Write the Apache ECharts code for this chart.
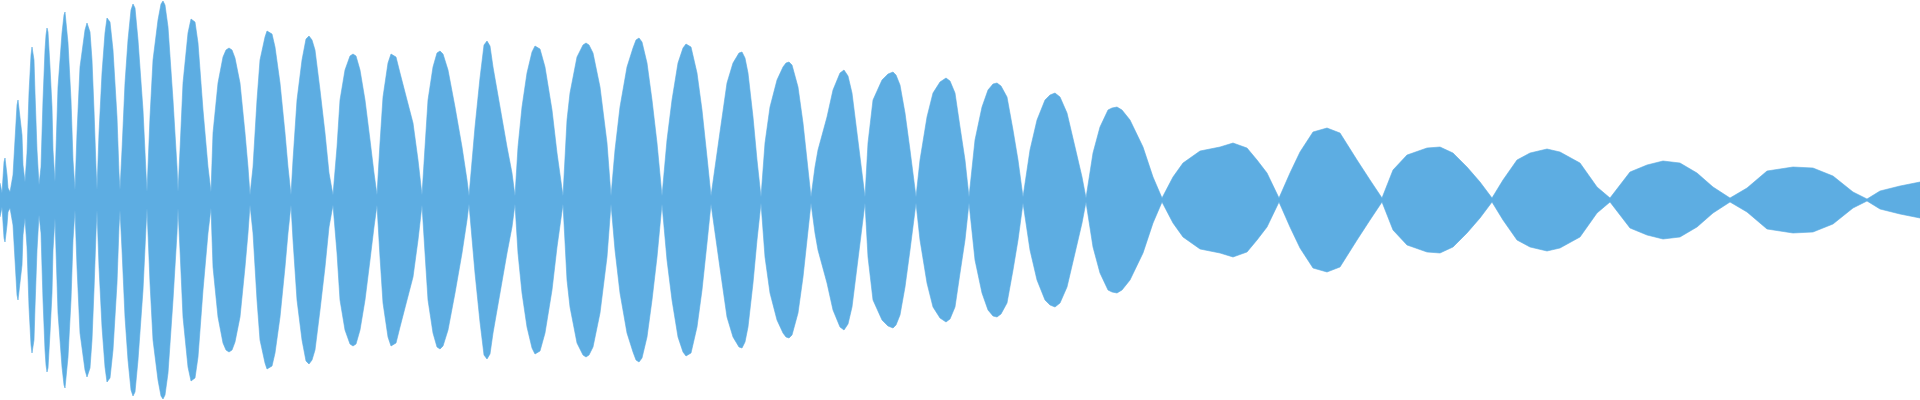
<!DOCTYPE html>
<html>
<head>
<meta charset="utf-8">
<script src="https://cdn.jsdelivr.net/npm/echarts@6/dist/echarts.min.js"></script>
<style>html,body{margin:0;padding:0;background:#fff}#c{width:1920px;height:400px}</style>
</head>
<body>
<div id="c"></div>
<script>
// time (sample) positions of envelope readings
const times = [
0,1,2,3,4,5,6,7,8,10,13,15,17,18,19,20,22,23,25,
27,29,31,32,33,34,35,37,39,
41,43,45,46,47,48,50,52,53,55,
56,58,62,64,65,66,68,71,73,75,
77,80,85,87,88,90,92,94,96,97,
99,102,105,107,108,110,113,117,119,120,
122,125,128,131,133,135,138,143,146,147,
150,153,158,161,163,165,168,173,177,178,
180,183,188,191,193,195,198,203,208,211,
213,218,223,226,229,232,235,240,245,248,250,
253,257,260,265,267,269,272,275,280,285,288,291,
293,297,302,306,309,312,315,320,325,329,333,
337,340,345,350,353,356,360,365,370,374,377,
380,383,388,391,393,396,400,407,413,418,422,
425,428,433,437,440,443,448,455,462,467,469,
475,480,484,487,490,493,500,507,512,515,
518,522,527,532,535,537,540,545,552,557,563,
567,570,577,583,586,589,593,600,607,611,
615,620,627,633,636,639,642,647,652,657,662,
667,672,678,683,686,688,691,697,702,707,711,
720,727,733,739,742,745,748,753,757,761,
765,770,777,783,786,789,792,798,803,807,811,
815,818,827,833,840,844,848,852,857,862,865,
868,873,882,888,893,896,900,905,910,916,
920,927,933,940,946,950,955,960,965,969,
975,982,988,993,997,1001,1007,1013,1018,1023,
1030,1037,1045,1050,1055,1060,1067,1075,1082,1086,
1093,1100,1108,1112,1117,1122,1130,1143,1153,1162,
1173,1183,1200,1220,1233,1247,1257,1267,1279,
1290,1300,1313,1327,1340,1357,1370,1382,
1393,1407,1427,1440,1453,1467,1480,1492,
1503,1517,1530,1547,1560,1580,1597,1610,
1620,1630,1647,1663,1680,1697,1713,1730,
1747,1767,1793,1813,1833,1853,1867,
1880,1900,1920
];
// envelope amplitude at each time
const amplitude = [
17,17,7,8,38,42,40,25,12,8,25,60,95,100,101,100,65,35,18,
47,107,145,153,151,140,107,50,15,
33,100,150,165,172,168,133,93,50,18,
50,113,167,185,188,186,157,100,40,10,
67,133,170,177,178,168,140,90,33,10,
67,127,167,182,184,178,150,83,27,10,
50,117,160,190,196,192,160,90,27,8,
83,140,180,196,199,195,173,100,33,8,
50,117,167,181,183,178,157,90,33,8,
67,117,143,150,152,150,142,117,67,33,5,
33,100,140,163,169,170,166,153,117,67,33,5,
40,100,140,161,164,160,150,110,67,27,5,
53,100,130,144,146,144,130,100,60,27,5,
57,103,137,146,147,143,127,100,77,40,5,
53,100,133,147,149,146,130,93,53,20,4,
73,122,155,159,154,133,93,53,27,4,
53,93,127,148,154,155,151,133,90,47,4,
80,107,143,155,157,155,147,113,57,4,
50,93,133,152,160,162,158,137,100,57,4,
60,100,137,152,156,157,153,127,90,43,4,
68,117,137,147,148,142,127,83,40,3,
57,93,120,133,137,138,135,113,77,40,3,
33,50,83,110,127,130,124,107,67,27,3,
57,100,120,126,128,125,115,87,50,3,
40,83,107,118,122,119,107,73,40,3,
60,93,110,116,117,114,103,70,40,3,
50,80,100,105,107,103,87,53,23,2,
47,73,90,92,93,90,80,53,23,2,
23,37,49,53,57,52,40,27,2,
27,48,68,72,67,40,20,2,
30,45,52,53,47,33,18,2,
20,40,47,51,48,37,13,2,
15,28,35,39,37,27,13,2,
12,29,33,32,24,8,1,
9,14,18
];
if (times.length !== amplitude.length) { throw new Error('length mismatch ' + times.length + ' vs ' + amplitude.length); }

const upper = times.map((t, i) => [t, amplitude[i]]);
const lower = times.map((t, i) => [t, -amplitude[i]]);

const chart = echarts.init(document.getElementById('c'), null, {renderer: 'canvas'});
const color = '#5dade2';
const base = {
  type: 'line', showSymbol: false, symbol: 'none', smooth: false,
  lineStyle: {width: 0.6, color: color},
  areaStyle: {color: color, opacity: 1, origin: 0},
  itemStyle: {color: color}, silent: true
};
chart.setOption({
  animation: false,
  backgroundColor: '#ffffff',
  grid: {left: 0, right: 0, top: 0, bottom: 0},
  xAxis: {type: 'value', min: 0, max: 1920, show: false},
  yAxis: {type: 'value', min: -200, max: 200, show: false},
  series: [
    Object.assign({}, base, {data: upper}),
    Object.assign({}, base, {data: lower})
  ]
});
</script>
</body>
</html>
